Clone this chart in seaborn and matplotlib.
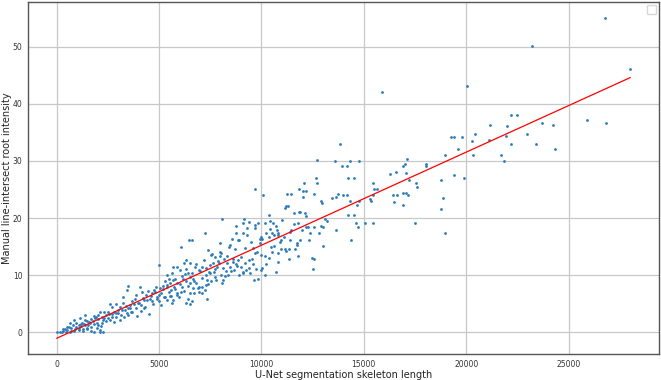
"""
Skeleton length vs manual root intensity scatter with fitted line.
"""

import matplotlib
matplotlib.use("Agg")
import matplotlib.pyplot as plt
import seaborn as sns
import pandas as pd

# points (x = skeleton length, y = root intensity)
skeleton_length = [
    26770, 23210, 28020, 15910, 20045, 22180, 22500, 25925, 26830, 23685,
    24260, 21175, 21980, 22965, 20415, 21935, 21110, 20290, 19265, 19430,
    19780, 19610, 22200, 23415, 24360, 20350, 21690, 18975, 21835, 19880,
    19385, 18050, 18050, 18770, 17105, 17000, 16940, 17060, 16550, 16300,
    17190, 17540, 17620, 16940, 17040, 16430, 16610, 17150, 16490, 16900,
    18850, 18770, 17500, 18960, 15440, 15480, 15630, 15460, 15315, 15360,
    14780, 14680, 14720, 15460, 15050, 12725, 13590, 14330, 14780, 13840,
    13960, 14165, 14250, 14500, 12650, 12710, 12070, 12170, 12590, 13730,
    13970, 14165, 13630, 13450, 12890, 12970, 14250, 14500, 14600, 14310,
    14370, 13095, 13220, 13010, 13650, 12890, 12545, 12810, 12990, 12480,
    12545, 12500, 11820, 11900, 11610, 12110, 11840, 12030, 11450, 11245,
    11310, 11200, 11140, 12050, 12190, 12290, 12335, 12375, 11780, 11900,
    11450, 11100, 11410, 10835, 10940, 11760, 11760, 11655, 11370, 11350,
    10980, 11140, 10835, 10525, 10710, 10180, 10220, 10360, 10485, 10010,
    9970, 9850, 9640, 9725, 9395, 9540, 9580, 9665, 9970, 9910,
    9950, 10010, 9705, 9830, 10180, 10380, 10425, 10075, 9705, 10590,
    10690, 10770, 10525, 10630, 10835, 10900, 10380, 10220, 9395, 9290,
    9090, 9150, 8740, 8060, 8740, 9090, 8550, 8470, 8860, 7955,
    8020, 7955, 7380, 7545, 7750, 7235, 6620, 6475, 6065, 6210,
    6310, 6520, 6765, 6930, 7090, 7300, 7440, 7485, 7650, 7750,
    7915, 7850, 8160, 8325, 8470, 8615, 8780, 8880, 9025, 9190,
    9250, 9435, 9110, 8920, 8675, 8365, 8120, 8060, 8020, 8265,
    7750, 7545, 7340, 7300, 7115, 6930, 6805, 6680, 6520, 6415,
    6270, 6150, 6310, 6520, 6640, 6720, 6930, 7090, 7235, 7360,
    6620, 6520, 6310, 6415, 6065, 6110, 6000, 5900, 5695, 5655,
    5800, 5900, 5735, 5530, 5490, 5385, 5285, 5180, 5385, 5590,
    5860, 5960, 5550, 5695, 5655, 5405, 5245, 5080, 5035, 4975,
    4870, 4770, 4665, 4915, 4975, 4665, 4565, 4460, 4360, 4255,
    4155, 4050, 3885, 3805, 3680, 3950, 4110, 4255, 3885, 3600,
    3475, 3640, 3435, 3330, 3475, 3435, 3230, 3230, 3085, 3020,
    3125, 2920, 2815, 2715, 2610, 2570, 2510, 2405, 2300, 2200,
    2260, 2100, 2035, 1995, 1955, 1890, 1790, 1685, 1625, 1540,
    1480, 1380, 1315, 1235, 1170, 1070, 965, 925, 800, 720,
    595, 515, 390, 290, 145, 40, 245, 450, 660, 865,
    1070, 1275, 1480, 1685, 1830, 2100, 2260, 1950, 2160, 1830,
    1380, 1130, 865, 660, 2920, 2715,
    300, 500, 700, 900, 1100, 1200, 1300, 1400, 1500, 1600,
    1700, 1800, 1900, 2000, 2100, 2200, 2300, 2400, 2500, 2600,
    2700, 2800, 2900, 3000, 3100, 3200, 3300, 3400, 3500, 3600,
    3700, 3800, 3900, 4000, 4100, 4200, 4300, 4400, 4500, 4600,
    4700, 4800, 4900, 5000, 5100, 5200, 5300, 5400, 5500, 5600,
    5700, 5800, 5900, 6000, 6100, 6200, 6300, 6400, 6500, 6600,
    6700, 6800, 6900, 7000, 7100, 7200, 7300, 7400, 7500, 7600,
    7700, 7800, 7900, 8000, 8100, 8200, 8300, 8400, 8500, 8600,
    8700, 8800, 8900, 9000, 9100, 9200, 9300, 9400, 9500, 9600,
    9700, 9800, 10000, 10200, 10400, 10600, 10800, 11000, 11200, 11400,
    11600, 11800, 12000, 12200,
]

root_intensity = [
    55.07, 50.06, 46.1, 42.07, 43.07, 38.05, 38.05, 37.2, 36.65, 36.65,
    36.3, 36.3, 36.07, 34.67, 34.67, 34.3, 33.6, 33.4, 34.1, 34.1,
    34.1, 32.1, 33.0, 33.0, 32.05, 31.06, 31.06, 31.06, 30.0, 27.0,
    27.6, 29.5, 29.1, 26.7, 30.4, 29.5, 29.1, 27.86, 28.0, 27.7,
    26.6, 26.05, 25.5, 24.4, 24.4, 24.0, 24.1, 24.0, 22.8, 22.3,
    23.5, 21.6, 19.2, 17.3, 26.05, 25.0, 25.0, 24.07, 23.3, 22.96,
    22.96, 22.3, 18.5, 19.2, 19.05, 30.1, 30.0, 30.0, 30.0, 33.0,
    29.1, 29.1, 27.0, 27.0, 27.0, 26.05, 26.05, 24.65, 24.2, 24.2,
    24.1, 24.1, 23.7, 23.5, 22.96, 22.55, 20.5, 20.6, 19.2, 22.9,
    16.1, 19.9, 19.5, 18.5, 17.9, 18.65, 18.5, 17.3, 15.1, 13.0,
    12.8, 11.1, 21.0, 21.1, 20.8, 20.8, 25.06, 24.7, 24.2, 24.2,
    22.1, 22.1, 21.7, 23.7, 18.5, 18.5, 16.1, 17.4, 19.2, 16.1,
    17.9, 16.6, 16.1, 17.3, 16.1, 15.6, 15.3, 14.5, 12.9, 14.5,
    14.6, 14.5, 13.9, 14.0, 10.6, 10.0, 11.9, 13.0, 15.0, 11.3,
    10.9, 9.4, 9.15, 11.0, 11.3, 12.9, 14.7, 13.8, 13.6, 15.6,
    16.3, 16.3, 18.2, 19.2, 19.2, 20.5, 19.5, 24.1, 25.1, 19.2,
    18.6, 17.9, 17.3, 17.0, 17.0, 15.85, 16.7, 17.3, 19.35, 18.3,
    19.2, 19.9, 18.6, 19.8, 17.3, 17.3, 16.4, 15.3, 16.1, 15.6,
    13.8, 13.4, 14.4, 13.5, 13.1, 17.3, 16.1, 16.1, 14.9, 12.1,
    12.6, 12.2, 11.5, 10.9, 11.5, 11.2, 10.6, 10.3, 12.1, 11.0,
    12.1, 11.5, 12.9, 12.1, 11.5, 12.3, 11.9, 12.6, 11.5, 12.1,
    10.9, 10.3, 10.3, 10.1, 10.9, 10.1, 9.15, 8.6, 10.0, 10.7,
    9.7, 9.0, 9.15, 8.3, 7.9, 8.0, 8.6, 9.3, 9.7, 10.3,
    10.2, 9.3, 8.9, 8.6, 7.7, 6.8, 7.1, 6.8, 7.4, 5.8,
    5.4, 5.0, 5.1, 5.9, 7.1, 7.9, 10.9, 11.5, 11.5, 10.3,
    9.4, 8.7, 8.0, 8.7, 9.4, 10.0, 8.9, 8.1, 7.9, 7.4,
    6.8, 6.2, 6.35, 5.65, 5.1, 5.65, 6.2, 6.8, 7.7, 11.8,
    8.0, 7.4, 6.8, 6.2, 5.5, 5.4, 5.9, 7.3, 6.5, 5.65,
    7.1, 8.0, 6.5, 5.9, 5.4, 5.1, 4.8, 4.2, 4.2, 4.8,
    4.2, 3.6, 3.3, 3.9, 8.1, 7.4, 6.2, 5.1, 4.5, 3.9,
    3.0, 3.3, 3.6, 2.7, 5.0, 3.2, 2.45, 3.0, 3.6, 2.7,
    2.15, 3.6, 3.0, 2.3, 1.7, 2.45, 1.9, 2.3, 1.6, 1.3,
    1.9, 2.15, 1.45, 1.7, 1.1, 1.3, 1.7, 1.0, 1.3, 0.7,
    1.0, 0.4, 0.5, 0.2, 0.1, 0.0, 0.0, 0.0, 0.1, 0.3,
    0.4, 0.5, 0.7, 1.0, 0.0, 0.0, 0.0, 0.7, 1.1, 2.9,
    3.0, 2.45, 2.15, 1.6, 4.95, 4.5,
    0.6, 0.9, 0.3, 0.6, 0.8, 1.5, 0.3, 1.2, 0.5, 1.8,
    0.2, 1.4, 2.7, 1.2, 0.4, 1.6, 2.5, 1.9, 3.5, 2.1,
    3.2, 1.8, 2.6, 3.4, 2.2, 3.9, 2.6, 4.6, 3.0, 4.2,
    3.5, 4.9, 2.8, 5.2, 3.8, 6.0, 4.4, 5.6, 3.2, 6.3,
    4.9, 7.0, 5.8, 6.6, 4.7, 7.5, 6.1, 8.3, 7.0, 6.3,
    9.1, 7.6, 6.6, 8.5, 9.9, 7.3, 11.0, 8.1, 6.9, 10.3,
    9.0, 12.0, 7.7, 10.8, 9.5, 12.6, 10.0, 8.4, 11.8, 13.7,
    10.5, 9.2, 12.4, 14.1, 11.2, 9.9, 13.3, 15.0, 10.8, 12.9,
    14.5, 11.6, 16.1, 13.2, 10.6, 14.8, 17.0, 12.7, 15.8, 11.9,
    18.8, 14.0, 16.6, 13.4, 18.1, 15.1, 12.3, 19.7, 14.2, 17.5,
    19.0, 13.3, 17.9, 20.3,
]

# fitted line end points
fit_x = [0, 28020]
fit_y = [-1.05, 44.58]

x_ticks = [0, 5000, 10000, 15000, 20000, 25000]
y_ticks = [0, 10, 20, 30, 40, 50]

df = pd.DataFrame({"length": skeleton_length, "intensity": root_intensity})

sns.set_style("white")
plt.rcParams["font.family"] = ["DejaVu Sans"]

fig = plt.figure(figsize=(6.61, 3.80), dpi=100)
ax = fig.add_axes([28 / 661, 1 - 354 / 380, 631 / 661, 352 / 380])

sns.scatterplot(data=df, x="length", y="intensity", s=4, linewidth=0,
                color="#2b7bba", ax=ax, zorder=3)
sns.lineplot(x=fit_x, y=fit_y, color="red", linewidth=0.9, ax=ax, zorder=4)

ax.set_xlim(-1400, 29420)
ax.set_ylim(-3.8, 57.8)
ax.set_xticks(x_ticks)
ax.set_yticks(y_ticks)
ax.grid(True, color="#c8c8c8", linewidth=0.9)
ax.set_axisbelow(True)
ax.tick_params(labelsize=5.5, length=2, width=0.6, colors="#333333", pad=2)

for sp in ax.spines.values():
    sp.set_color("#555555")
    sp.set_linewidth(1.0)

ax.set_xlabel("U-Net segmentation skeleton length", fontsize=7, color="#222222", labelpad=1)
ax.set_ylabel("Manual line-intersect root intensity", fontsize=7, color="#222222")
ax.yaxis.set_label_coords(-0.025, 0.5)

ax.legend(handles=[], loc="upper right", fontsize=4.5, borderpad=0.7)

fig.savefig("out.png", dpi=100)
